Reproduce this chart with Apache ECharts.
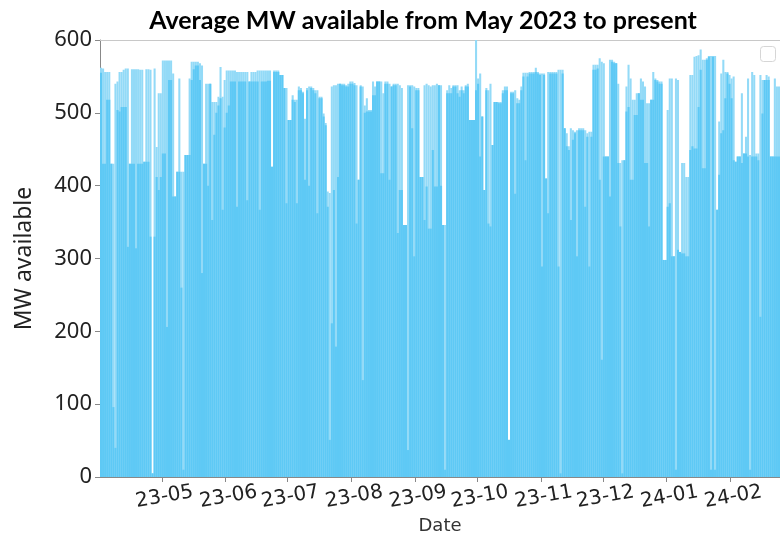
<!DOCTYPE html>
<html>
<head>
<meta charset="utf-8">
<script src="https://cdn.jsdelivr.net/npm/echarts@6/dist/echarts.min.js"></script>
<style>
html,body{margin:0;padding:0;background:#fff;}
#chart{width:780px;height:536px;}
</style>
</head>
<body>
<div id="chart"></div>
<script>
// Daily values, starting 2023-04-01
const startDay = '2023-04-01';
// highest hourly MW reached each day (light top of the bars)
const maxMW = [
562,561,556,556,556,430,430,540,543,556,556,559,561,561,430,560,560,560,560,559,
559,433,560,560,559,5,561,453,527,527,572,572,572,572,572,554,385,419,547,419,
419,442,442,547,570,570,570,570,568,565,430,540,540,540,515,515,515,522,563,522,
545,558,558,558,558,558,556,556,556,556,556,556,543,556,556,556,558,558,558,558,
558,558,558,426,558,558,558,552,552,534,534,490,490,524,518,518,536,534,529,492,
534,536,536,534,531,531,522,522,499,486,392,390,536,538,538,540,540,540,540,538,
540,543,543,541,538,408,538,536,510,520,504,504,543,536,543,543,543,527,543,543,
540,536,540,540,540,538,534,346,346,538,538,538,536,534,534,412,412,538,540,538,
536,538,538,540,538,538,346,346,531,538,534,538,538,538,531,536,531,538,540,490,
490,490,600,547,554,495,394,534,531,540,456,515,515,515,515,531,536,536,51,529,
529,531,520,518,536,555,555,555,556,556,556,562,556,554,554,554,410,556,556,556,
556,556,559,559,559,479,472,454,479,476,474,476,479,479,479,476,472,474,474,566,
566,566,575,570,568,440,440,573,573,570,568,540,431,435,435,536,566,547,518,518,
527,527,547,543,536,513,513,518,556,547,545,543,543,298,298,504,547,547,303,547,
545,309,431,431,412,412,552,552,577,578,579,587,573,573,575,578,578,578,578,367,
488,554,573,556,556,552,547,550,433,440,440,527,444,467,547,442,556,552,444,444,
552,545,545,552,550,440,440,547,536,536
];
// level reached by most hours of the day (darker body of the bars)
const bodyMW = [
555,430,430,518,518,430,96,40,504,502,508,508,508,316,430,430,430,314,430,430,
430,433,433,433,330,5,330,412,394,412,444,444,206,545,545,385,385,419,419,260,
10,442,442,442,545,560,565,565,545,280,430,430,400,540,353,470,500,510,520,367,
480,500,510,543,543,543,371,543,543,543,543,380,543,543,543,543,543,367,543,543,
543,544,544,426,556,556,556,552,552,534,376,490,490,518,515,376,531,531,527,408,
531,400,534,531,527,362,520,520,495,483,371,51,211,394,179,412,540,538,538,536,
536,540,540,538,348,408,536,133,500,502,502,502,524,524,543,543,417,417,540,540,
408,536,538,538,335,394,394,346,346,37,536,479,303,531,531,412,412,353,399,341,
341,449,399,399,538,400,346,10,527,527,527,536,536,527,522,531,527,536,536,490,
490,490,531,540,440,495,394,531,348,344,456,515,515,513,513,527,531,531,51,527,
527,389,513,513,531,550,435,550,554,554,554,556,554,552,289,552,410,362,554,554,
554,554,289,5,554,479,454,449,353,463,472,303,476,476,476,371,467,289,467,559,
559,561,408,161,440,440,440,385,570,568,568,431,344,5,435,502,508,408,408,497,
497,527,518,518,431,431,344,518,518,545,543,540,540,298,298,371,376,303,303,10,
312,309,307,307,303,303,449,454,451,451,508,559,424,424,573,577,10,577,10,367,
415,472,476,520,554,540,520,435,433,440,440,431,444,444,440,10,440,440,440,435,
220,499,545,545,545,440,440,440,440,440
];
const yTicks = [0, 100, 200, 300, 400, 500, 600];

const dates = maxMW.map((_, i) => {
  const d = new Date(Date.parse(startDay + 'T00:00:00Z') + i * 86400000);
  return d.toISOString().slice(0, 10);
});

const chart = echarts.init(document.getElementById('chart'), null, {renderer: 'canvas'});
const isMonthStart = (i, v) => i > 0 && v.slice(8, 10) === '01';

chart.setOption({
  animation: false,
  backgroundColor: '#fff',
  title: {
    text: 'Average MW available from May 2023 to present',
    left: 418, top: 3, textAlign: 'center',
    textStyle: {fontFamily: 'Lato', fontWeight: 'bold', fontSize: 25, color: '#000'}
  },
  grid: {left: 100, right: 0, top: 40, bottom: 59, containLabel: false, outerBoundsMode: 'none'},
  xAxis: [{
    type: 'category', data: dates, boundaryGap: true,
    axisLine: {lineStyle: {color: '#888', width: 1}},
    axisTick: {show: true, interval: isMonthStart, length: 5, lineStyle: {color: '#888'}},
    axisLabel: {
      interval: isMonthStart,
      formatter: v => v.slice(2, 7),
      rotate: 10, align: 'center', verticalAlign: 'top',
      fontFamily: 'DejaVu Sans', fontSize: 20, color: '#222', margin: 10
    },
    name: 'Date', nameLocation: 'middle', nameGap: 40,
    nameTextStyle: {fontFamily: 'DejaVu Sans', fontSize: 18, color: '#333'}
  }, {
    type: 'category', data: dates, position: 'top',
    axisLine: {lineStyle: {color: '#c8c8c8', width: 1}},
    axisTick: {show: false}, axisLabel: {show: false}
  }],
  yAxis: {
    type: 'value', min: yTicks[0], max: yTicks[yTicks.length - 1], interval: 100,
    axisLine: {show: true, lineStyle: {color: '#888'}},
    axisTick: {show: true, length: 5, lineStyle: {color: '#888'}},
    splitLine: {show: false},
    axisLabel: {fontFamily: 'Noto Sans', fontSize: 22, color: '#222', margin: 8},
    name: 'MW available', nameLocation: 'middle', nameGap: 64,
    nameTextStyle: {fontFamily: 'Noto Sans', fontSize: 23, color: '#222'}
  },
  graphic: [{
    type: 'rect', right: 4, top: 46,
    shape: {width: 15, height: 15, r: 3},
    style: {fill: '#fff', stroke: '#d6d6d6', lineWidth: 1}
  }],
  series: [{
    type: 'bar', name: 'max', data: maxMW, xAxisIndex: 0,
    barWidth: '100%', barGap: '-100%',
    itemStyle: {color: '#93daf7'}
  }, {
    type: 'bar', name: 'body', data: bodyMW, xAxisIndex: 0,
    barWidth: '100%', barGap: '-100%',
    itemStyle: {color: '#5ec9f5'}
  }]
});
</script>
</body>
</html>
